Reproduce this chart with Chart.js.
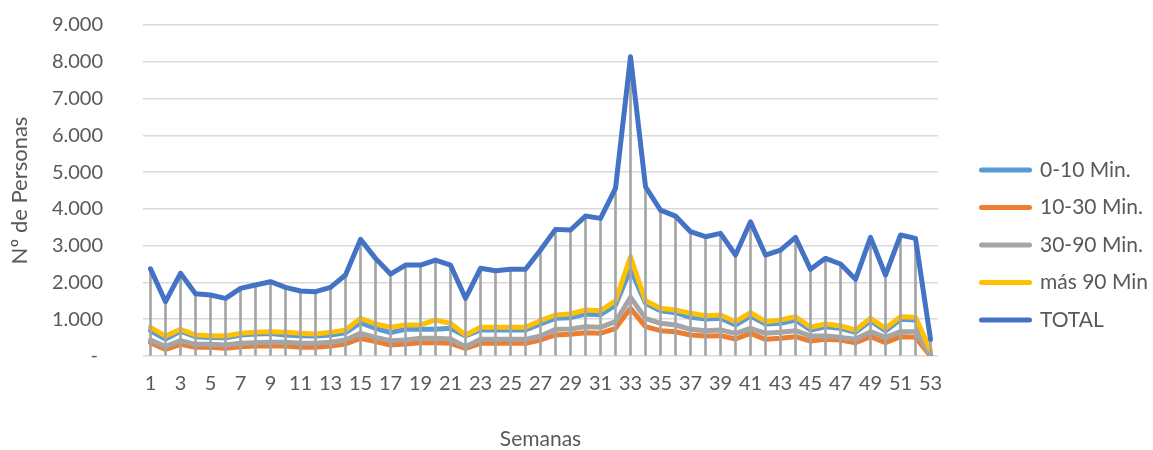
<!DOCTYPE html>
<html>
<head>
<meta charset="utf-8">
<script src="https://cdn.jsdelivr.net/npm/chart.js@4"></script>
<style>
  html, body { margin: 0; padding: 0; background: #ffffff; }
  #wrap { width: 1153px; height: 450px; }
</style>
</head>
<body>
<div id="wrap"><canvas id="chart" width="1153" height="450"></canvas></div>
<script>
// Week numbers on the category axis
const weeks = ['1','2','3','4','5','6','7','8','9','10',
  '11','12','13','14','15','16','17','18','19','20',
  '21','22','23','24','25','26','27','28','29','30',
  '31','32','33','34','35','36','37','38','39','40',
  '41','42','43','44','45','46','47','48','49','50',
  '51','52','53'];

// People per week, by waiting time
const min0to10 = [688,460,675,525,505,495,570,595,610,571,
  553,544,571,634,905,752,634,725,725,725,
  752,544,707,707,707,707,870,1024,1042,1142,
  1124,1386,2357,1432,1232,1178,1051,1006,1024,843,
  1087,870,888,979,707,797,752,643,960,680,
  997,979,70];

const min10to30 = [362,181,317,236,236,209,254,272,281,272,
  236,236,272,326,481,390,299,326,362,362,
  344,209,344,344,344,344,435,571,589,634,
  616,752,1296,797,688,661,571,544,553,462,
  616,453,481,526,408,453,435,362,526,362,
  526,507,0];

const min30to90 = [435,254,417,317,317,299,344,362,372,372,
  344,344,372,435,616,507,417,435,481,481,
  462,254,453,453,453,453,544,725,734,797,
  779,933,1595,1024,888,843,725,688,707,616,
  752,616,643,688,544,544,507,453,661,507,
  661,661,27];

const over90 = [780,540,725,571,553,544,616,643,661,643,
  616,600,643,707,1024,870,780,843,843,979,
  888,571,780,780,780,780,960,1114,1142,1250,
  1232,1500,2700,1500,1296,1250,1160,1096,1114,933,
  1178,933,979,1069,780,870,815,707,1024,752,
  1069,1051,150];

const total = [2370,1477,2248,1690,1658,1568,1840,1930,2020,1867,
  1767,1748,1867,2202,3171,2655,2229,2473,2473,2609,
  2473,1568,2384,2320,2357,2357,2881,3443,3425,3805,
  3742,4558,8136,4602,3968,3805,3379,3243,3334,2745,
  3651,2745,2881,3225,2357,2655,2501,2084,3225,2202,
  3289,3198,450];

const seriesNames = ['0-10 Min.', '10-30 Min.', '30-90 Min.', 'más 90 Min', 'TOTAL'];
const seriesColors = ['#5B9BD5', '#ED7D31', '#A5A5A5', '#FFC000', '#4472C4'];

const FONT = "Lato, 'Open Sans', sans-serif";
const TEXT = '#595959';
const LINE_W = 5;

// Accounting-style format: thousands with dots, zero shown as a dash
function thousands(v) {
  if (v === 0) return '- ';
  return String(v).replace(/\B(?=(\d{3})+(?!\d))/g, '.');
}

function lineSet(i, data, order) {
  return {
    type: 'line',
    label: seriesNames[i],
    data: data,
    borderColor: seriesColors[i],
    backgroundColor: seriesColors[i],
    borderWidth: LINE_W,
    borderJoinStyle: 'round',
    borderCapStyle: 'round',
    tension: 0,
    fill: false,
    pointRadius: 0,
    pointHoverRadius: 0,
    pointStyle: 'line',
    order: order
  };
}

new Chart(document.getElementById('chart'), {
  type: 'line',
  data: {
    labels: weeks,
    datasets: [
      lineSet(0, min0to10, 5),
      lineSet(1, min10to30, 4),
      lineSet(2, min30to90, 3),
      lineSet(3, over90, 2),
      lineSet(4, total, 0),
      // drop lines from the TOTAL series down to the axis
      {
        type: 'bar',
        label: 'drop',
        data: total,
        backgroundColor: '#A5A5A5',
        borderWidth: 0,
        barThickness: 2,
        order: 1
      }
    ]
  },
  options: {
    responsive: false,
    animation: false,
    events: [],
    layout: { padding: 0 },
    scales: {
      x: {
        type: 'category',
        offset: true,
        grid: { display: false, drawTicks: false },
        border: { display: false },
        ticks: {
          autoSkip: false,
          maxRotation: 0,
          minRotation: 0,
          padding: 16,
          color: TEXT,
          font: { family: FONT, size: 20 },
          callback: (v, i) => (i % 2 === 0 ? weeks[i] : '')
        },
        title: {
          display: true,
          text: 'Semanas',
          color: TEXT,
          font: { family: FONT, size: 21, lineHeight: 1 },
          padding: { top: 0, bottom: 0 }
        },
        afterFit: (s) => { s.height = 94; }
      },
      y: {
        type: 'linear',
        position: 'left',
        min: 0,
        max: 9000,
        grid: { color: '#D9D9D9', lineWidth: 1.5, drawTicks: false },
        border: { display: false },
        ticks: {
          stepSize: 1000,
          padding: 40,
          color: TEXT,
          font: { family: FONT, size: 20 },
          callback: (v) => thousands(v)
        },
        title: {
          display: true,
          text: 'Nº de Personas',
          color: TEXT,
          font: { family: FONT, size: 22 },
          padding: { top: 7, bottom: 0 }
        },
        afterFit: (s) => {
          s.width = 143;
          s.paddingTop = 25;
          s.paddingBottom = 12;
        }
      },
      gap: {
        type: 'linear',
        axis: 'y',
        position: 'right',
        display: true,
        grid: { display: false, drawTicks: false },
        border: { display: false },
        ticks: { display: false },
        afterFit: (s) => { s.width = 27; }
      }
    },
    plugins: {
      tooltip: { enabled: false },
      legend: {
        position: 'right',
        align: 'center',
        maxWidth: 188,
        title: { display: true, text: '', font: { size: 12 }, padding: { top: 25.6, bottom: 0 } },
        labels: {
          usePointStyle: true,
          pointStyleWidth: 48,
          padding: 16.5,
          color: TEXT,
          font: { family: FONT, size: 21 },
          generateLabels: (chart) => {
            const items = Chart.defaults.plugins.legend.labels.generateLabels(chart);
            return items
              .filter((it) => it.datasetIndex < seriesNames.length)
              .sort((a, b) => a.datasetIndex - b.datasetIndex)
              .map((it) => Object.assign(it, {
                lineWidth: LINE_W,
                lineCap: 'round',
                pointStyle: 'line',
                strokeStyle: seriesColors[it.datasetIndex]
              }));
          }
        }
      }
    }
  }
});
</script>
</body>
</html>
